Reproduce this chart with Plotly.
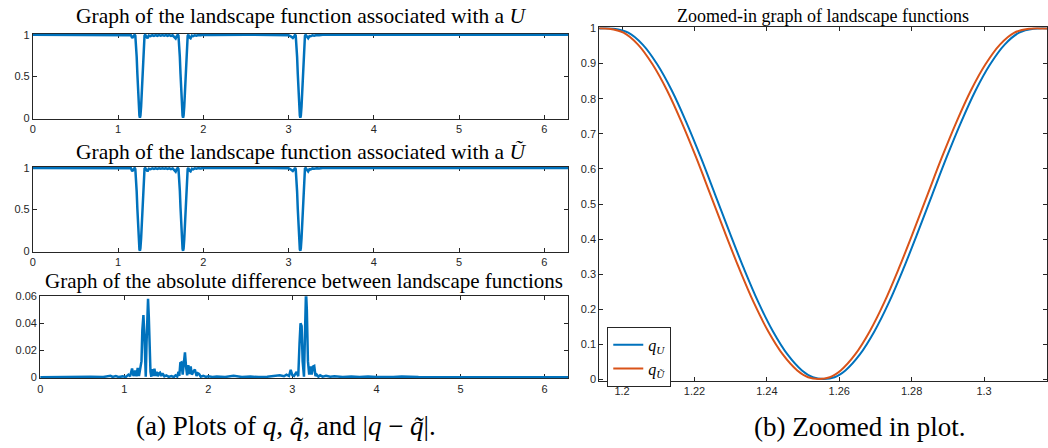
import plotly.graph_objects as go

W, H = 1048, 448

# ---------------- data ----------------
x_q = [0, 0.5, 0.8, 0.84, 0.88, 0.92, 0.96, 1.0, 1.04, 1.07, 1.1, 1.13, 1.15, 1.165, 1.18, 1.1937,
       1.2017, 1.2097, 1.2177, 1.2257, 1.2337, 1.2417, 1.2497, 1.2557, 1.2617, 1.2697, 1.2777, 1.2857, 1.2937, 1.3017, 1.3097, 1.3177,
       1.33, 1.345, 1.36, 1.38, 1.40, 1.42, 1.44, 1.46, 1.48, 1.50, 1.52, 1.54, 1.56, 1.58, 1.60, 1.62, 1.64, 1.66, 1.675, 1.69, 1.70,
       1.708, 1.716, 1.724, 1.732, 1.740, 1.748, 1.756, 1.762, 1.768, 1.776, 1.784, 1.792, 1.800, 1.808, 1.816, 1.824,
       1.835, 1.85, 1.865, 1.88, 1.90, 1.92, 1.94, 1.97, 2.0, 2.1, 2.2, 2.5, 2.8, 2.9, 2.95, 2.98, 3.0, 3.03, 3.05, 3.065, 3.076,
       3.084, 3.092, 3.100, 3.108, 3.116, 3.124, 3.132, 3.138, 3.144, 3.152, 3.160, 3.168, 3.176, 3.184, 3.192, 3.200,
       3.215, 3.23, 3.245, 3.26, 3.28, 3.30, 3.33, 3.36, 3.40, 3.6, 4.0, 5.0, 6.2832]

q_U = [1, 1, 1, 0.998, 1, 0.997, 1, 0.996, 1, 0.994, 1, 0.992, 0.996, 0.96, 0.975, 1.0,
       0.988, 0.898, 0.734, 0.527, 0.315, 0.137, 0.026, 0.0, 0.026, 0.137, 0.315, 0.527, 0.734, 0.898, 0.988, 1.0,
       0.982, 0.958, 0.99, 0.984, 0.995, 0.987, 0.996, 0.988, 0.996, 0.99, 0.996, 0.99, 0.996, 0.988, 0.996, 0.986, 0.994, 0.97, 0.955, 0.99, 1.0,
       0.988, 0.898, 0.734, 0.527, 0.315, 0.137, 0.026, 0.0, 0.026, 0.137, 0.315, 0.527, 0.734, 0.898, 0.988, 1.0,
       0.97, 0.958, 0.99, 0.984, 0.995, 0.99, 0.997, 0.994, 1, 0.998, 1, 1, 0.998, 1, 0.996, 0.993, 0.996, 0.978, 0.962, 0.98, 1.0,
       0.988, 0.898, 0.734, 0.527, 0.315, 0.137, 0.026, 0.0, 0.026, 0.137, 0.315, 0.527, 0.734, 0.898, 0.988, 1.0,
       0.97, 0.958, 0.985, 0.982, 0.994, 0.99, 0.997, 0.994, 1, 0.998, 1, 1, 1]

q_Ut = [1, 1, 1, 0.998, 1, 0.997, 1, 0.996, 1, 0.994, 1, 0.992, 0.996, 0.96, 0.975, 1.0,
        0.985, 0.886, 0.715, 0.505, 0.295, 0.122, 0.02, 0.0005, 0.033, 0.152, 0.335, 0.549, 0.753, 0.91, 0.991, 1.0,
        0.982, 0.958, 0.99, 0.984, 0.995, 0.987, 0.996, 0.988, 0.996, 0.99, 0.996, 0.99, 0.996, 0.988, 0.996, 0.986, 0.994, 0.97, 0.955, 0.99, 1.0,
        0.987, 0.894, 0.727, 0.519, 0.307, 0.131, 0.024, 0.0, 0.028, 0.143, 0.323, 0.535, 0.741, 0.903, 0.989, 1.0,
        0.97, 0.958, 0.99, 0.984, 0.995, 0.99, 0.997, 0.994, 1, 0.998, 1, 1, 0.998, 1, 0.996, 0.993, 0.996, 0.978, 0.962, 0.98, 1.0,
        0.985, 0.886, 0.715, 0.505, 0.295, 0.122, 0.02, 0.0005, 0.033, 0.152, 0.335, 0.549, 0.753, 0.91, 0.991, 1.0,
        0.97, 0.958, 0.985, 0.982, 0.994, 0.99, 0.997, 0.994, 1, 0.998, 1, 1, 1]

x_diff = [0, 0.2, 0.4, 0.6, 0.75, 0.8, 0.836, 0.86, 0.9, 0.94,
          0.98, 1.02, 1.05, 1.07, 1.093, 1.11, 1.13, 1.145, 1.16, 1.175,
          1.19, 1.205, 1.215, 1.228, 1.24, 1.25, 1.256, 1.265, 1.275, 1.283,
          1.292, 1.302, 1.312, 1.322, 1.335, 1.348, 1.359, 1.372, 1.385, 1.40,
          1.412, 1.425, 1.44, 1.455, 1.477, 1.50, 1.53, 1.56, 1.59, 1.61,
          1.63, 1.645, 1.655, 1.667, 1.68, 1.695, 1.71, 1.722, 1.735, 1.748,
          1.762, 1.775, 1.79, 1.805, 1.82, 1.84, 1.86, 1.875, 1.89, 1.91,
          1.94, 1.97, 2.0, 2.05, 2.1, 2.2, 2.3, 2.4, 2.5, 2.6,
          2.7, 2.8, 2.85, 2.9, 2.93, 2.96, 2.98, 3.0, 3.02, 3.05,
          3.07, 3.085, 3.097, 3.11, 3.122, 3.138, 3.15, 3.162, 3.172, 3.185,
          3.2, 3.215, 3.23, 3.245, 3.26, 3.275, 3.29, 3.31, 3.33, 3.36,
          3.4, 3.45, 3.5, 3.6, 3.7, 3.8, 3.9, 4.0, 4.2, 4.3,
          4.5, 5.0, 5.5, 6.0, 6.2832]

abs_diff = [0, 0.0003, 0.0002, 0.0004, 0.0003, 0.0006, 0.0012, 0.0003, 0.0009, 0.0002,
            0.0008, 0.0003, 0.002, 0.0008, 0.0065, 0.001, 0.005, 0.0008, 0.007, 0.001,
            0.006, 0.012, 0.035, 0.046, 0.03, 0.008, 0.0005, 0.025, 0.05, 0.058,
            0.045, 0.02, 0.004, 0.0005, 0.006, 0.001, 0.0065, 0.001, 0.004, 0.0008,
            0.003, 0.0035, 0.001, 0.003, 0.0008, 0.0015, 0.0004, 0.001, 0.0003, 0.0015,
            0.0005, 0.004, 0.001, 0.0106, 0.011, 0.002, 0.012, 0.0185, 0.008, 0.0015,
            0.009, 0.0025, 0.008, 0.002, 0.004, 0.0058, 0.001, 0.003, 0.0025, 0.0005,
            0.0012, 0.0003, 0.0008, 0.0003, 0.0006, 0.0003, 0.0012, 0.0003, 0.0006, 0.0002,
            0.0005, 0.0008, 0.0015, 0.0008, 0.002, 0.001, 0.0055, 0.0015, 0.001, 0.004,
            0.0008, 0.025, 0.04, 0.038, 0.012, 0.0005, 0.035, 0.064, 0.05, 0.012,
            0.002, 0.008, 0.002, 0.008, 0.0085, 0.001, 0.002, 0.0005, 0.0015, 0.0005,
            0.0012, 0.0004, 0.0008, 0.0003, 0.0006, 0.0002, 0.0006, 0.0002, 0.0003, 0.0006,
            0.0002, 0.0002, 0.0001, 0.0001, 0]

x_zoom_U = [1.1937, 1.1977, 1.2017, 1.2057, 1.2097, 1.2137, 1.2177, 1.2217, 1.2257, 1.2297, 1.2337,
            1.2377, 1.2417, 1.2457, 1.2497, 1.2527, 1.2557, 1.2587, 1.2617, 1.2657, 1.2697, 1.2737,
            1.2777, 1.2817, 1.2857, 1.2897, 1.2937, 1.2977, 1.3017, 1.3057, 1.3097, 1.3137, 1.3177]
zoom_qU = [1.0, 0.999, 0.988, 0.954, 0.898, 0.824, 0.734, 0.634, 0.527, 0.419, 0.315,
           0.219, 0.137, 0.0716, 0.026, 0.0066, 0.002, 0.0066, 0.026, 0.0716, 0.137, 0.219,
           0.315, 0.419, 0.527, 0.634, 0.734, 0.824, 0.898, 0.954, 0.988, 0.999, 1.0]

x_zoom_Ut = [1.1924, 1.1964, 1.2004, 1.2044, 1.2084, 1.2124, 1.2164, 1.2204, 1.2244, 1.2284, 1.2324,
             1.2364, 1.2404, 1.2444, 1.2484, 1.2514, 1.2544, 1.2574, 1.2604, 1.2644, 1.2684, 1.2724,
             1.2764, 1.2804, 1.2844, 1.2884, 1.2924, 1.2964, 1.3004, 1.3044, 1.3084, 1.3124, 1.3164, 1.3177]
zoom_qUt = [1.0, 0.999, 0.988, 0.954, 0.898, 0.824, 0.734, 0.634, 0.527, 0.419, 0.315,
            0.219, 0.137, 0.0716, 0.026, 0.0066, 0.002, 0.0066, 0.026, 0.0716, 0.137, 0.219,
            0.315, 0.419, 0.527, 0.634, 0.734, 0.824, 0.898, 0.954, 0.988, 0.999, 1.0, 1.0]

x_ticks_left = [0, 1, 2, 3, 4, 5, 6]
y_ticks_q = [0, 0.5, 1]
y_ticklabels_q = ["0", "0.5", "1"]
y_ticks_diff = [0, 0.02, 0.04, 0.06]
y_ticklabels_diff = ["0", "0.02", "0.04", "0.06"]
x_ticks_zoom = [1.2, 1.22, 1.24, 1.26, 1.28, 1.3]
x_ticklabels_zoom = ["1.2", "1.22", "1.24", "1.26", "1.28", "1.3"]
y_ticks_zoom = [0, 0.1, 0.2, 0.3, 0.4, 0.5, 0.6, 0.7, 0.8, 0.9, 1]
y_ticklabels_zoom = ["0", "0.1", "0.2", "0.3", "0.4", "0.5", "0.6", "0.7", "0.8", "0.9", "1"]

n = min(len(x_q), len(q_U), len(q_Ut))
m = min(len(x_diff), len(abs_diff))

BLUE = "#0072BD"
ORANGE = "#D95319"
AX = "#262626"
SERIF = "Liberation Serif, Times New Roman, serif"
SANS = "Liberation Sans, Arial, sans-serif"


def px(p):
    return p / W


def py(p):
    return 1 - p / H


fig = go.Figure()
fig.add_trace(go.Scatter(x=x_q[:n], y=q_U[:n], mode="lines", line=dict(color=BLUE, width=2.5),
                         xaxis="x", yaxis="y", showlegend=False))
fig.add_trace(go.Scatter(x=x_q[:n], y=q_Ut[:n], mode="lines", line=dict(color=BLUE, width=2.5),
                         xaxis="x2", yaxis="y2", showlegend=False))
fig.add_trace(go.Scatter(x=x_diff[:m], y=abs_diff[:m], mode="lines", line=dict(color=BLUE, width=2.5),
                         xaxis="x3", yaxis="y3", showlegend=False))
fig.add_trace(go.Scatter(x=x_zoom_U, y=zoom_qU, mode="lines", line=dict(color=BLUE, width=2, shape="spline"),
                         xaxis="x4", yaxis="y4", name="<i>q</i><sub><i>U</i></sub>"))
fig.add_trace(go.Scatter(x=x_zoom_Ut, y=zoom_qUt, mode="lines", line=dict(color=ORANGE, width=2, shape="spline"),
                         xaxis="x4", yaxis="y4", name="<i>q</i><sub><i>Ũ</i></sub>"))

common = dict(showline=True, linecolor=AX, linewidth=1, mirror="ticks", ticks="inside",
              ticklen=4, tickwidth=1, tickcolor=AX, showgrid=False, zeroline=False,
              tickfont=dict(family=SANS, size=11, color=AX), layer="below traces")

xdom_top = [px(30), px(567)]
xdom_bot = [px(37.3), px(567)]

fig.update_layout(
    width=W, height=H, margin=dict(l=0, r=0, t=0, b=0),
    paper_bgcolor="white", plot_bgcolor="white",
    xaxis=dict(domain=xdom_top, range=[0, 6.2832], tickvals=x_ticks_left, anchor="y", **common),
    yaxis=dict(domain=[py(115.5), py(28.5)], range=[-0.012, 1.012], tickvals=y_ticks_q,
               ticktext=y_ticklabels_q, anchor="x", **common),
    xaxis2=dict(domain=xdom_top, range=[0, 6.2832], tickvals=x_ticks_left, anchor="y2", **common),
    yaxis2=dict(domain=[py(252), py(165)], range=[-0.012, 1.012], tickvals=y_ticks_q,
                ticktext=y_ticklabels_q, anchor="x2", **common),
    xaxis3=dict(domain=xdom_bot, range=[0, 6.2832], tickvals=x_ticks_left, anchor="y3", **common),
    yaxis3=dict(domain=[py(381.7), py(297.5)], range=[-0.00072, 0.06], tickvals=y_ticks_diff,
                ticktext=y_ticklabels_diff, anchor="x3", **common),
    xaxis4=dict(domain=[px(598), px(1047)], range=[1.1937, 1.3174], tickvals=x_ticks_zoom,
                ticktext=x_ticklabels_zoom, anchor="y4", **common),
    yaxis4=dict(domain=[py(384.1), py(21.9)], range=[-0.003, 1.003], tickvals=y_ticks_zoom,
                ticktext=y_ticklabels_zoom, anchor="x4", **common),
    showlegend=True,
    legend=dict(x=px(606), y=py(329), xanchor="left", yanchor="top", bgcolor="white",
                bordercolor=AX, borderwidth=1, font=dict(family=SERIF, size=16, color="black"),
                itemwidth=30, tracegroupgap=0),
)

titles = [
    ("Graph of the landscape function associated with a <i>U</i>", 298.5, 10, 21.5),
    ("Graph of the landscape function associated with a <i>Ũ</i>", 298.5, 150, 21.5),
    ("Graph of the absolute difference between landscape functions", 302, 282, 21),
    ("Zoomed-in graph of landscape functions", 822.5, 10, 18),
    ("(a) Plots of <i>q</i>, <i>q̃</i>, and |<i>q</i> − <i>q̃</i>|.", 284, 431, 27),
    ("(b) Zoomed in plot.", 859, 432, 27),
]
for text, cx, cy, size in titles:
    fig.add_annotation(text=text, x=px(cx), y=py(cy), xref="paper", yref="paper",
                       xanchor="center", yanchor="middle", showarrow=False,
                       font=dict(family=SERIF, size=size, color="black"))

fig.write_html("out.html")
